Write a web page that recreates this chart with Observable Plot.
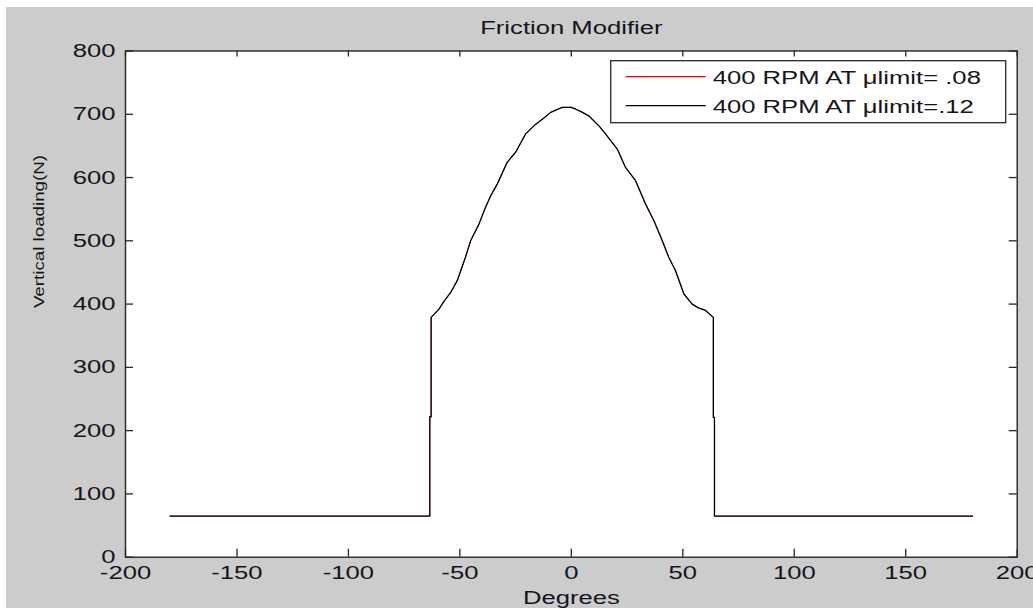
<!DOCTYPE html>
<html><head><meta charset="utf-8">
<script src="https://cdn.jsdelivr.net/npm/d3@7"></script>
<script src="https://cdn.jsdelivr.net/npm/@observablehq/plot@0.6"></script>
<style>
html,body{margin:0;padding:0;background:#fff;}
#fig{position:absolute;left:6px;top:7px;width:1027px;height:601px;background:#cccccc;overflow:hidden;}
</style></head><body><div id="fig"></div>
<script>
const title = "Friction Modifier";
const xLabel = "Degrees";
const yLabel = "Vertical loading(N)";
const seriesNames = ["400 RPM AT μlimit= .08", "400 RPM AT μlimit=.12"];
const seriesColors = ["#ff0000", "#000000"];
const seriesWidths = [0.8, 1.3];
const degrees = [-180, -63.5, -63.5, -62.9, -62.9, -59.4, -57, -54.2, -51.2, -47.5, -45.2, -41.5, -38.5, -36.2, -33.2, -28.8, -25, -20.5, -16.1, -12, -9.3, -4.1, 0, 2, 5, 8, 12.3, 15.3, 20.6, 24.3, 28.8, 33.3, 37, 40.8, 43.7, 46.7, 50.5, 54.2, 57, 60.2, 63.7, 63.7, 64.2, 64.2, 180];
const load12 = [65, 65, 222, 222, 379, 392, 405, 418, 437, 474, 500, 526, 553, 571, 590, 624, 640, 669, 684, 695, 703, 711, 711, 708, 703, 697, 682, 669, 645, 616, 595, 558, 532, 500, 474, 453, 416, 400, 394, 390, 379, 221, 221, 65, 65];
const load08 = load12; // red series lies exactly under the black one
const xTicks = [-200, -150, -100, -50, 0, 50, 100, 150, 200];
const yTicks = [0, 100, 200, 300, 400, 500, 600, 700, 800];

const W = 1027, H = 601, mL = 119, mR = 16.3, mT = 43.5, mB = 51.3;
const iw = W - mL - mR, ih = H - mT - mB;
const axisColor = "#262626", textColor = "#141420";
const seriesData = [load08, load12];
const rows = seriesNames.flatMap((s, k) => degrees.map((d, i) => ({series: s, x: d, y: seriesData[k][i], w: seriesWidths[k]})));

const chart = Plot.plot({
  width: W, height: H,
  marginLeft: mL, marginRight: mR, marginTop: mT, marginBottom: mB,
  style: {background: "transparent", fontFamily: "'Liberation Sans', Arial, sans-serif", fontSize: "19px", color: textColor},
  x: {domain: [-200, 200]},
  y: {domain: [0, 800]},
  color: {domain: seriesNames, range: seriesColors},
  marks: [
    Plot.frame({fill: "white", stroke: null}),
    ...seriesNames.map((s, k) => Plot.line(rows.filter(r => r.series === s), {x: "x", y: "y", stroke: "series", strokeWidth: seriesWidths[k]})),
    Plot.ruleX(xTicks, {insetTop: ih - 8, stroke: axisColor, strokeWidth: 1.3}),
    Plot.ruleX(xTicks, {insetBottom: ih - 6, stroke: axisColor, strokeWidth: 1.3}),
    Plot.ruleY(yTicks, {insetRight: iw - 8, stroke: axisColor, strokeWidth: 1.3}),
    Plot.ruleY(yTicks, {insetLeft: iw - 8, stroke: axisColor, strokeWidth: 1.3}),
    Plot.frame({stroke: axisColor, strokeWidth: 1.4}),
    Plot.axisX(xTicks, {tickSize: 0, tickPadding: 8, tickFormat: d => String(d), fill: textColor, label: null}),
    Plot.axisY(yTicks, {tickSize: 0, tickPadding: 10, tickFormat: d => String(d), fill: textColor, label: null}),
    Plot.text([title], {frameAnchor: "top", lineAnchor: "bottom", dy: -17.5, fill: textColor}),
    Plot.text([xLabel], {frameAnchor: "bottom", lineAnchor: "bottom", dy: 47, fill: textColor}),
    Plot.text([yLabel], {frameAnchor: "left", lineAnchor: "bottom", rotate: -90, dx: -82, dy: 4, fontSize: 15, fill: textColor})
  ]
});

// legend (MATLAB style box, top-right inside the axes)
const svg = d3.select(chart);
const lg = svg.append("g").attr("transform", `translate(${W - mR - 11 - 395},${mT + 10.2})`);
lg.append("rect").attr("x", 0).attr("y", 0).attr("width", 395).attr("height", 62)
  .attr("fill", "white").attr("stroke", axisColor).attr("stroke-width", 1.3);
seriesNames.forEach((name, i) => {
  const cy = 16 + i * 29;
  lg.append("line").attr("x1", 15).attr("x2", 95).attr("y1", cy).attr("y2", cy)
    .attr("stroke", seriesColors[i]).attr("stroke-width", 1.3);
  lg.append("text").attr("transform", `translate(102,${cy + 7})`)
    .attr("text-anchor", "start")
    .attr("fill", textColor).attr("font-size", 19).text(name);
});

// emulate the horizontally stretched screenshot text
chart.querySelectorAll("text").forEach(t => {
  const x = parseFloat(t.getAttribute("x"));
  let tr = t.getAttribute("transform") || "";
  if (!isNaN(x)) { tr += ` translate(${x},0)`; t.removeAttribute("x"); }
  tr += /rotate/.test(tr) ? " scale(1.25,1)" : " scale(1.35,1)";
  t.setAttribute("transform", tr);
});

document.getElementById("fig").appendChild(chart);
</script></body></html>
